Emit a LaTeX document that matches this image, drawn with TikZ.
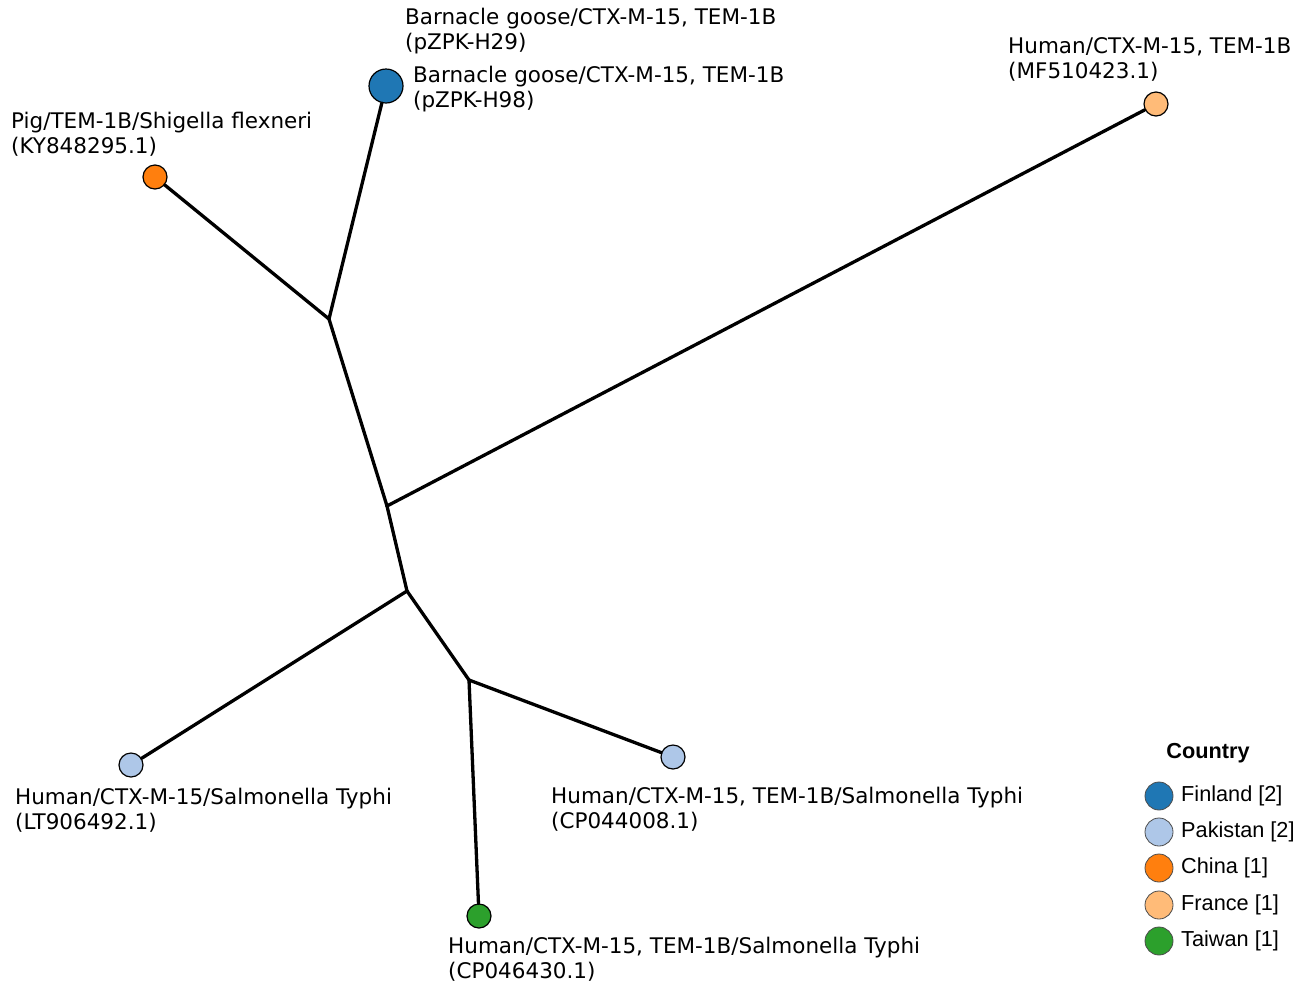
\documentclass[tikz,border=0pt]{standalone}
\usepackage{fontspec}
\setmainfont{DejaVu Sans}
\newfontfamily\legfont{Liberation Sans}
\definecolor{finland}{HTML}{1F77B4}
\definecolor{pakistan}{HTML}{AEC7E8}
\definecolor{china}{HTML}{FF7F0E}
\definecolor{france}{HTML}{FFBB78}
\definecolor{taiwan}{HTML}{2CA02C}
\begin{document}
\begin{tikzpicture}[x=1pt,y=-1pt,
  leaf/.style={circle,draw=black,line width=1.2pt,inner sep=0pt,minimum size=24pt},
  bigleaf/.style={leaf,minimum size=34pt},
  branch/.style={line width=3.3pt,line cap=round,line join=round},
  lab/.style={anchor=west,align=left,inner sep=0pt,font=\fontsize{21.5}{25}\selectfont},
  legdot/.style={circle,draw=black!70,line width=0.8pt,inner sep=0pt,minimum size=28pt},
  legtxt/.style={anchor=west,inner sep=0pt,font=\legfont\fontsize{21.7}{24}\selectfont}]
\useasboundingbox (0,0) rectangle (1306,986);
% internal junctions
\coordinate (A) at (329,319);
\coordinate (B) at (387,506);
\coordinate (C) at (407,591);
\coordinate (D) at (469,680);
% leaves
\node[bigleaf,fill=finland] (goose) at (386,86) {};
\node[leaf,fill=china] (pig) at (155,177) {};
\node[leaf,fill=france] (fr) at (1156,104) {};
\node[leaf,fill=pakistan] (lt) at (131,765) {};
\node[leaf,fill=pakistan] (cp8) at (673,757) {};
\node[leaf,fill=taiwan] (tw) at (479,916) {};
% branches
\draw[branch] (goose) -- (A);
\draw[branch] (pig) -- (A);
\draw[branch] (A) -- (B);
\draw[branch] (B) -- (fr);
\draw[branch] (B) -- (C);
\draw[branch] (C) -- (lt);
\draw[branch] (C) -- (D);
\draw[branch] (D) -- (cp8);
\draw[branch] (D) -- (tw);
% labels
\node[lab] (l1) at (405,31) {Barnacle goose/CTX-M-15, TEM-1B\\(pZPK-H29)};
\node[lab] (l2) at (413,89) {Barnacle goose/CTX-M-15, TEM-1B\\(pZPK-H98)};
\node[lab] (l3) at (11,134) {Pig/TEM-1B/Shigella flexneri\\(KY848295.1)};
\node[lab] (l4) at (1008,59) {Human/CTX-M-15, TEM-1B\\(MF510423.1)};
\node[lab] (l5) at (15,810) {Human/CTX-M-15/Salmonella Typhi\\(LT906492.1)};
\node[lab] (l6) at (551,809) {Human/CTX-M-15, TEM-1B/Salmonella Typhi\\(CP044008.1)};
\node[lab] (l7) at (448,959) {Human/CTX-M-15, TEM-1B/Salmonella Typhi\\(CP046430.1)};
% legend
\node[font=\legfont\bfseries\fontsize{21.7}{24}\selectfont,inner sep=0pt] (legt) at (1208,753) {Country};
\node[legdot,fill=finland] (d1) at (1159,796) {};
\node[legdot,fill=pakistan] (d2) at (1159,832) {};
\node[legdot,fill=china] (d3) at (1159,868) {};
\node[legdot,fill=france] (d4) at (1159,905) {};
\node[legdot,fill=taiwan] (d5) at (1159,941) {};
\node[legtxt] (t1) at (1181,796) {Finland [2]};
\node[legtxt] (t2) at (1181,832) {Pakistan [2]};
\node[legtxt] (t3) at (1181,868) {China [1]};
\node[legtxt] (t4) at (1181,905) {France [1]};
\node[legtxt] (t5) at (1181,941) {Taiwan [1]};
\end{tikzpicture}
\end{document}
